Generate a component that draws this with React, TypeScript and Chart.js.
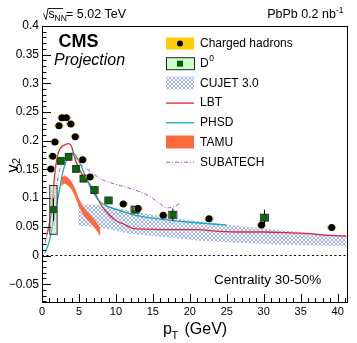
import React, { useEffect, useRef } from 'react';
import { Chart, registerables } from 'chart.js';
Chart.register(...registerables);

// ---------- data ----------
const chX = [1.2, 1.45, 1.75, 2.3, 2.7, 3.3, 3.9, 4.5, 5.5, 6.5, 11, 13, 16.4, 22.6, 29.7, 39.2];
const chY = [0.151, 0.173, 0.198, 0.226, 0.24, 0.24, 0.229, 0.207, 0.167, 0.137, 0.09, 0.082, 0.07, 0.064, 0.053, 0.049];

const d0X = [1.55, 2.55, 3.6, 4.6, 5.6, 7.1, 9.0, 12.6, 17.7, 30.1];
const d0Y = [0.08, 0.165, 0.172, 0.151, 0.134, 0.114, 0.096, 0.08, 0.071, 0.066];
const d0SysLo = [0.037, 0.159, 0.166, 0.145, 0.128, 0.108, 0.09, 0.074, 0.065, 0.06];
const d0SysHi = [0.122, 0.171, 0.178, 0.157, 0.14, 0.12, 0.102, 0.086, 0.077, 0.072];
const d0SysXErr = [0.5, 0.45, 0.45, 0.45, 0.45, 0.5, 0.5, 0.55, 0.55, 0.55];
const d0StatErr = [0.02, 0.004, 0.004, 0.004, 0.004, 0.005, 0.005, 0.006, 0.011, 0.014];

const cujetX = [4.9, 7, 9, 12, 15, 18, 21, 25, 30, 35, 41.2];
const cujetHi = [0.089, 0.089, 0.086, 0.078, 0.071, 0.065, 0.06, 0.054, 0.047, 0.041, 0.034];
const cujetLo = [0.052, 0.05, 0.046, 0.038, 0.034, 0.03, 0.026, 0.023, 0.02, 0.018, 0.016];

const lbtX = [0.63, 1.0, 1.3, 1.8, 2.2, 2.7, 3.1, 3.6, 4.0, 4.5, 5.0, 5.6, 6.3, 7.0, 8.0, 9.0, 10.0, 11.0, 12.4, 14.0, 17.0, 21.0, 24.0, 27.0, 30.0, 33.0, 36.0, 39.0, 41.2];
const lbtY = [0.035, 0.055, 0.08, 0.15, 0.179, 0.19, 0.193, 0.195, 0.19, 0.167, 0.152, 0.138, 0.127, 0.113, 0.088, 0.072, 0.061, 0.055, 0.047, 0.046, 0.045, 0.045, 0.042, 0.041, 0.041, 0.04, 0.038, 0.035, 0.034];

const phsdX = [0.4, 1.0, 1.5, 2.2, 2.9, 3.6, 4.2, 4.9, 5.6, 6.7, 7.9, 9.2, 10.1, 12.4, 14.5, 16.9, 20, 22, 25];
const phsdY = [0.005, 0.025, 0.057, 0.103, 0.15, 0.173, 0.179, 0.167, 0.147, 0.115, 0.093, 0.084, 0.08, 0.071, 0.066, 0.062, 0.058, 0.056, 0.053];

const tamuX = [2.6, 3.0, 3.5, 4.0, 4.5, 5.0, 5.5, 6.0, 6.5, 7.0, 7.5, 7.9];
const tamuHi = [0.134, 0.14, 0.136, 0.129, 0.116, 0.099, 0.087, 0.078, 0.071, 0.064, 0.056, 0.047];
const tamuLo = [0.12, 0.126, 0.122, 0.115, 0.102, 0.085, 0.073, 0.064, 0.057, 0.05, 0.042, 0.033];

const subX = [0.4, 1.1, 1.8, 2.4, 3.1, 4.0, 5.2, 6.5, 8.0, 10.0, 12.4, 14.6, 16.0, 17.0, 18.0, 18.8];
const subY = [0.022, 0.063, 0.109, 0.15, 0.17, 0.176, 0.159, 0.147, 0.133, 0.124, 0.115, 0.103, 0.09, 0.083, 0.086, 0.092];

const zeroX = [0, 41.2];
const zeroY = [0, 0];

const xTicks = [0, 5, 10, 15, 20, 25, 30, 35, 40];
const yTicks = [-0.05, 0, 0.05, 0.1, 0.15, 0.2, 0.25, 0.3, 0.35, 0.4];
const yTickLabels = ['\u22120.05', '0', '0.05', '0.1', '0.15', '0.2', '0.25', '0.3', '0.35', '0.4'];

const legendLabels = ['Charged hadrons', 'D', 'CUJET 3.0', 'LBT', 'PHSD', 'TAMU', 'SUBATECH'];

const FONT = "'Liberation Sans', Arial, Helvetica, sans-serif";
const C_LBT = '#e3262a';
const C_PHSD = '#1aaaa8';
const C_TAMU = '#ff6a3c';
const C_SUB = '#b455c8';

const pts = (xs: number[], ys: number[]) => xs.map((x, i) => ({ x, y: ys[i] }));

export default function App() {
  const ref = useRef<HTMLCanvasElement>(null);
  useEffect(() => {
    const canvas = ref.current!;
    const pc = document.createElement('canvas');
    pc.width = 4; pc.height = 4;
    const p = pc.getContext('2d')!;
    p.strokeStyle = '#7d95ff';
    p.lineWidth = 0.75;
    p.beginPath();
    p.moveTo(0, 0); p.lineTo(4, 4);
    p.moveTo(4, 0); p.lineTo(0, 4);
    p.stroke();
    const pattern = canvas.getContext('2d')!.createPattern(pc, 'repeat')!;

    const boxPlugin = {
      id: 'sysboxes',
      beforeDatasetDraw(chart: any, args: any) {
        const { ctx, scales } = chart;
        const xs = scales.x, ys = scales.y;
        if (args.index === 0) {
          ctx.save();
          ctx.fillStyle = '#f5c400';
          for (let i = 0; i < chX.length; i++) {
            const px = xs.getPixelForValue(chX[i]);
            const py = ys.getPixelForValue(chY[i]);
            ctx.fillRect(px - 4.5, py - 1.5, 9, 3);
          }
          ctx.restore();
          return;
        }
        if (args.index !== 1) return;
        ctx.save();
        for (let i = 0; i < d0X.length; i++) {
          const x0 = xs.getPixelForValue(d0X[i] - d0SysXErr[i]);
          const x1 = xs.getPixelForValue(d0X[i] + d0SysXErr[i]);
          const y0 = ys.getPixelForValue(d0SysHi[i]);
          const y1 = ys.getPixelForValue(d0SysLo[i]);
          ctx.fillStyle = 'rgba(190,215,190,0.55)';
          ctx.fillRect(x0, y0, x1 - x0, y1 - y0);
          ctx.strokeStyle = '#333';
          ctx.lineWidth = 1;
          ctx.strokeRect(x0, y0, x1 - x0, y1 - y0);
          const xc = xs.getPixelForValue(d0X[i]);
          ctx.beginPath();
          ctx.moveTo(xc, ys.getPixelForValue(d0Y[i] + d0StatErr[i]));
          ctx.lineTo(xc, ys.getPixelForValue(d0Y[i] - d0StatErr[i]));
          ctx.strokeStyle = '#000';
          ctx.stroke();
        }
        ctx.restore();
      },
    };

    const decorPlugin = {
      id: 'decor',
      afterDraw(chart: any) {
        const { ctx, chartArea: a, scales } = chart;
        const xs = scales.x, ys = scales.y;
        ctx.save();
        // frame
        ctx.strokeStyle = '#000';
        ctx.lineWidth = 1;
        ctx.strokeRect(Math.round(a.left) + 0.5, Math.round(a.top) + 0.5, Math.round(a.right - a.left), Math.round(a.bottom - a.top));
        // x ticks
        ctx.beginPath();
        for (let k = 0; k <= 41; k++) {
          const px = Math.round(xs.getPixelForValue(k)) + 0.5;
          const len = k % 5 === 0 ? 8 : 4;
          ctx.moveTo(px, a.bottom);
          ctx.lineTo(px, a.bottom - len);
        }
        // y ticks
        for (let k = -8; k <= 40; k++) {
          const py = Math.round(ys.getPixelForValue(k / 100)) + 0.5;
          const len = k % 5 === 0 ? 9 : 4.5;
          ctx.moveTo(a.left, py);
          ctx.lineTo(a.left + len, py);
        }
        ctx.stroke();

        ctx.fillStyle = '#000';
        ctx.textBaseline = 'alphabetic';
        ctx.textAlign = 'left';
        // top-left energy label
        ctx.beginPath();
        ctx.moveTo(43.5, 13.5);
        ctx.lineTo(46, 19.5);
        ctx.lineTo(48, 8.5);
        ctx.lineTo(63, 8.5);
        ctx.lineWidth = 0.9;
        ctx.stroke();
        ctx.font = `12.5px ${FONT}`;
        ctx.fillText('s', 48.5, 18);
        ctx.font = `8.5px ${FONT}`;
        ctx.fillText('NN', 54.5, 21);
        ctx.font = `12.5px ${FONT}`;
        ctx.fillText('= 5.02 TeV', 66, 18);
        // top-right
        ctx.font = `8.5px ${FONT}`;
        const supW = ctx.measureText('-1').width;
        ctx.fillText('-1', 343.5 - supW, 12.5);
        ctx.font = `12.5px ${FONT}`;
        ctx.textAlign = 'right';
        ctx.fillText('PbPb 0.2 nb', 343.5 - supW, 18);
        ctx.textAlign = 'left';
        // CMS
        ctx.font = `bold 18px ${FONT}`;
        ctx.fillText('CMS', 58.5, 47);
        ctx.font = `italic 16px ${FONT}`;
        ctx.fillText('Projection', 54, 65);
        // centrality
        ctx.font = `13.5px ${FONT}`;
        ctx.fillText('Centrality 30-50%', 214, 283.5);
        // x title
        ctx.font = `16px ${FONT}`;
        ctx.fillText('p', 163, 334);
        ctx.font = `11px ${FONT}`;
        ctx.fillText('T', 171.5, 339);
        ctx.font = `16px ${FONT}`;
        ctx.fillText('(GeV)', 184.5, 334);
        // y title
        ctx.save();
        ctx.translate(17.5, 172.5);
        ctx.rotate(-Math.PI / 2);
        ctx.font = `16px ${FONT}`;
        ctx.fillText('v', 0, 0);
        ctx.font = `11px ${FONT}`;
        ctx.fillText('2', 8.5, 2.5);
        ctx.restore();

        // legend
        const lx0 = 166, lw = 28, tx = 200;
        legendLabels.forEach((lab, i) => {
          const y = 43.5 + i * 19.7;
          if (i === 0) {
            ctx.fillStyle = '#ffcc00';
            ctx.fillRect(lx0, y - 6, lw, 12);
            ctx.fillStyle = '#000';
            ctx.beginPath();
            ctx.arc(lx0 + lw / 2, y, 3, 0, Math.PI * 2);
            ctx.fill();
          } else if (i === 1) {
            ctx.fillStyle = '#ccffcc';
            ctx.fillRect(lx0, y - 6, lw, 12);
            ctx.strokeStyle = '#222';
            ctx.lineWidth = 1;
            ctx.strokeRect(lx0 + 0.5, y - 5.5, lw, 12);
            ctx.fillStyle = '#006600';
            ctx.fillRect(lx0 + lw / 2 - 3, y - 2.5, 6, 6);
          } else if (i === 2) {
            ctx.fillStyle = pattern;
            ctx.fillRect(lx0, y - 6.5, lw, 13);
          } else if (i === 3 || i === 4 || i === 6) {
            ctx.strokeStyle = i === 3 ? C_LBT : i === 4 ? C_PHSD : C_SUB;
            ctx.lineWidth = i === 6 ? 1 : 1.3;
            ctx.setLineDash(i === 6 ? [4, 2, 1, 2] : []);
            ctx.beginPath();
            ctx.moveTo(lx0, y + 0.5);
            ctx.lineTo(lx0 + lw, y + 0.5);
            ctx.stroke();
            ctx.setLineDash([]);
          } else if (i === 5) {
            ctx.fillStyle = C_TAMU;
            ctx.fillRect(lx0, y - 6.5, lw, 13);
          }
          ctx.fillStyle = '#000';
          ctx.font = `12px ${FONT}`;
          ctx.textBaseline = 'middle';
          ctx.fillText(lab, tx, y + 0.5);
          if (i === 1) {
            const w = ctx.measureText(lab).width;
            ctx.font = `8.5px ${FONT}`;
            ctx.fillText('0', tx + w + 0.5, y - 4.5);
          }
          ctx.textBaseline = 'alphabetic';
        });
        ctx.restore();
      },
    };

    const chart = new Chart(canvas, {
      type: 'line',
      data: {
        datasets: [
          {
            label: 'Charged hadrons', data: pts(chX, chY), showLine: false,
            pointRadius: 3.5, pointBackgroundColor: '#000', pointBorderColor: '#000', pointBorderWidth: 0, order: 0,
          },
          {
            label: 'D0', data: pts(d0X, d0Y), showLine: false, pointStyle: 'rect',
            pointRadius: 4.3, pointBackgroundColor: '#0a6a0a', pointBorderColor: '#063806', pointBorderWidth: 0.6, order: 1,
          },
          {
            label: 'zero', data: pts(zeroX, zeroY), borderColor: '#000', borderWidth: 1, borderDash: [2, 2.5],
            pointRadius: 0, order: 2,
          },
          {
            label: 'SUBATECH', data: pts(subX, subY), borderColor: C_SUB, borderWidth: 1, borderDash: [4, 2, 1, 2],
            pointRadius: 0, cubicInterpolationMode: 'monotone', order: 3,
          },
          {
            label: 'PHSD', data: pts(phsdX, phsdY), borderColor: C_PHSD, borderWidth: 1.3,
            pointRadius: 0, cubicInterpolationMode: 'monotone', order: 4,
          },
          {
            label: 'LBT', data: pts(lbtX, lbtY), borderColor: C_LBT, borderWidth: 1.3,
            pointRadius: 0, cubicInterpolationMode: 'monotone', order: 5,
          },
          {
            label: 'TAMU hi', data: pts(tamuX, tamuHi), borderWidth: 0, borderColor: C_TAMU,
            backgroundColor: C_TAMU, fill: '+1', pointRadius: 0, order: 6,
          },
          {
            label: 'TAMU lo', data: pts(tamuX, tamuLo), borderWidth: 0, borderColor: C_TAMU,
            fill: false, pointRadius: 0, order: 7,
          },
          {
            label: 'CUJET hi', data: pts(cujetX, cujetHi), borderWidth: 0, borderColor: 'rgba(0,0,0,0)',
            backgroundColor: pattern, fill: '+1', pointRadius: 0, order: 8,
          },
          {
            label: 'CUJET lo', data: pts(cujetX, cujetLo), borderWidth: 0, borderColor: 'rgba(0,0,0,0)',
            fill: false, pointRadius: 0, order: 9,
          },
        ],
      } as any,
      options: {
        responsive: false,
        animation: false,
        events: [],
        layout: { padding: { top: 26, right: 10.5, left: 0, bottom: 0 } },
        plugins: { legend: { display: false }, tooltip: { enabled: false }, title: { display: false } },
        scales: {
          x: {
            type: 'linear', min: 0, max: 41.2,
            grid: { display: false, drawTicks: false },
            border: { display: false },
            afterBuildTicks: (s: any) => { s.ticks = xTicks.map((v) => ({ value: v })); },
            afterFit: (s: any) => { s.height = 41; },
            ticks: {
              autoSkip: false, maxRotation: 0, padding: 3, color: '#000',
              font: { family: FONT, size: 11 },
              callback: (v: any) => String(v),
            },
          },
          y: {
            type: 'linear', min: -0.081, max: 0.4,
            grid: { display: false, drawTicks: false },
            border: { display: false },
            afterBuildTicks: (s: any) => { s.ticks = yTicks.map((v) => ({ value: v })); },
            afterFit: (s: any) => { s.width = 42; },
            ticks: {
              autoSkip: false, padding: 3, color: '#000',
              font: { family: FONT, size: 12 },
              callback: (v: any) => {
                const i = yTicks.findIndex((t) => Math.abs(t - v) < 1e-6);
                return i >= 0 ? yTickLabels[i] : '';
              },
            },
          },
        },
      } as any,
      plugins: [boxPlugin, decorPlugin],
    });
    return () => chart.destroy();
  }, []);
  return (
    <div style={{ position: 'fixed', left: 0, top: 0, width: 357, height: 343, background: '#fff' }}>
      <canvas ref={ref} width={357} height={343} style={{ width: 357, height: 343, display: 'block' }} />
    </div>
  );
}
